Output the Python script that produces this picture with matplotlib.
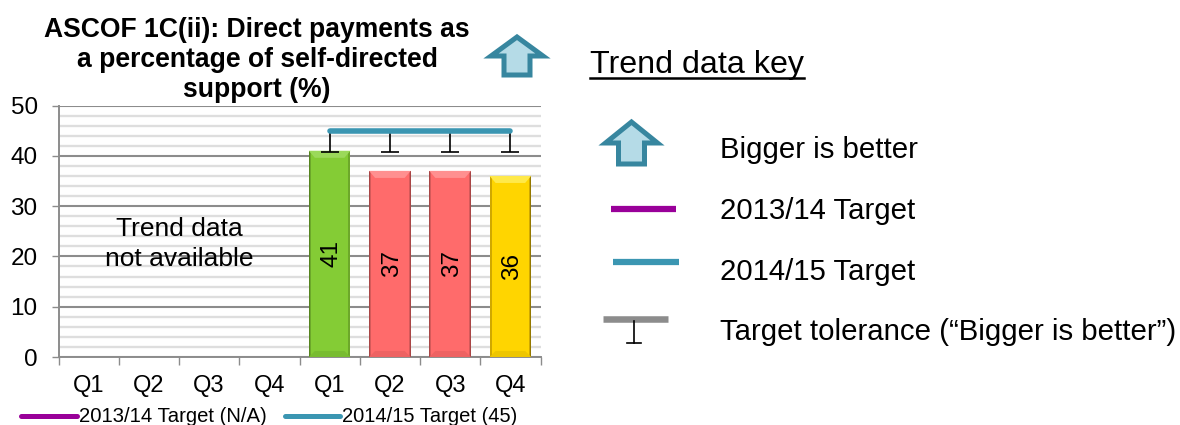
import matplotlib
matplotlib.use('Agg')
import matplotlib.pyplot as plt
from matplotlib.patches import Polygon
from matplotlib.lines import Line2D

plt.rcParams['font.family'] = ['Liberation Sans', 'DejaVu Sans']

W, H = 1180, 425
quarters = ['Q1', 'Q2', 'Q3', 'Q4', 'Q1', 'Q2', 'Q3', 'Q4']
values = [None, None, None, None, 41, 37, 37, 36]
bar_colors = [None, None, None, None, '#84CC35', '#FF6B6B', '#FF6B6B', '#FFD500']
bevel_colors = [None, None, None, None, '#9BD95A', '#FF9090', '#FF9090', '#FFE94A']
base_colors = [None, None, None, None, '#78BC30', '#EE6262', '#EE6262', '#EEC600']
side_colors = [None, None, None, None, '#6CA82A', '#D65A5A', '#D65A5A', '#D0A800']
edge_colors = [None, None, None, None, '#55841F', '#A84646', '#A84646', '#947800']
target_2014 = [None, None, None, None, 45, 45, 45, 45]
tolerance_low = [None, None, None, None, 40.7, 40.7, 40.7, 40.7]
TEAL = '#3B96B2'
PURPLE = '#990099'
ARROW_EDGE = '#37869F'
ARROW_FILL = '#B5DBE7'

fig = plt.figure(figsize=(W / 100, H / 100), dpi=100)
L, R, T, B = 58.5, 540.5, 105.5, 357
ax = fig.add_axes([L / W, 1 - B / H, (R - L) / W, (B - T) / H])
ax.set_xlim(-0.5, 7.5)
ax.set_ylim(0, 50)

ax.set_yticks(range(0, 51, 10))
ax.set_yticks(range(0, 51, 2), minor=True)
ax.grid(axis='y', which='minor', color='#DEDEDE', lw=1.7, zorder=0)
ax.grid(axis='y', which='major', color='#8C8C8C', lw=1.5, zorder=1)
ax.set_xticks([i - 0.5 for i in range(9)])
ax.set_xticks(range(8), minor=True)
ax.set_xticklabels([])
ax.set_xticklabels(quarters, minor=True, fontsize=17)
ax.tick_params(axis='x', which='major', length=6, width=1, color='#8C8C8C')
ax.tick_params(axis='x', which='minor', length=0, pad=13)
ax.tick_params(axis='y', which='major', length=5, width=1, color='#8C8C8C', labelsize=17.5, pad=10)
ax.tick_params(axis='y', which='minor', length=0)
for s in ('top', 'right'):
    ax.spines[s].set_visible(False)
for s in ('left', 'bottom'):
    ax.spines[s].set_color('#8C8C8C')
    ax.spines[s].set_linewidth(1.4)

width = 0.69
for i, v in enumerate(values):
    if v is None:
        continue
    ax.bar(i, v, width=width, color=edge_colors[i], zorder=3)
    ax.bar(i, v, width=width - 0.025, color=side_colors[i], zorder=3.5)
    ax.bar(i, v, width=width - 0.07, color=bar_colors[i], zorder=4)
    ax.add_patch(Polygon([(i - width / 2, v), (i + width / 2, v),
                          (i + width / 2 - 0.1, v - 1.4), (i - width / 2 + 0.1, v - 1.4)],
                         closed=True, color=bevel_colors[i], zorder=5, lw=0))
    ax.add_patch(Polygon([(i - width / 2, 0), (i + width / 2, 0),
                          (i + width / 2 - 0.1, 1.2), (i - width / 2 + 0.1, 1.2)],
                         closed=True, color=base_colors[i], zorder=5, lw=0))
    ax.text(i + 0.03, v / 2, str(v), rotation=90, ha='center', va='center', fontsize=17.5,
            color='black', zorder=6)

xs = [i for i, v in enumerate(target_2014) if v is not None]
ys = [target_2014[i] for i in xs]
lows = [tolerance_low[i] for i in xs]
ax.vlines(xs, lows, ys, color='black', lw=1.2, zorder=7)
ax.plot(xs, lows, ls='none', marker='_', ms=13, mew=1.2, color='black', zorder=7)
ax.plot(xs, ys, color=TEAL, lw=4, solid_capstyle='round', zorder=8)

ax.text(1.5, 25.4, 'Trend data', ha='center', va='center', fontsize=19, zorder=6)
ax.text(1.5, 19.4, 'not available', ha='center', va='center', fontsize=19, zorder=6)

# Overlay in pixel coordinates for the annotations around the chart
ov = fig.add_axes([0, 0, 1, 1])
ov.set_xlim(0, W)
ov.set_ylim(H, 0)
ov.axis('off')
ov.patch.set_alpha(0)

for y, line in zip((30, 60, 90), ('ASCOF 1C(ii): Direct payments as', 'a percentage of self-directed', 'support (%)')):
    ov.text(257, y, line, ha='center', va='center', fontsize=19.1, fontweight='bold')


def up_arrow(cx, apex, wing, bottom, hw, hs):
    pts = [(cx, apex), (cx + hw, wing), (cx + hs, wing), (cx + hs, bottom),
           (cx - hs, bottom), (cx - hs, wing), (cx - hw, wing)]
    ov.add_patch(Polygon(pts, closed=True, facecolor=ARROW_FILL, edgecolor=ARROW_EDGE,
                         lw=3.6, joinstyle='miter'))


up_arrow(517, 37, 56, 75, 26, 13)
up_arrow(631.5, 122, 143, 164, 26, 13)

ov.text(590, 65, 'Trend data key', ha='left', va='center', fontsize=23.2)
ov.add_line(Line2D([590, 804], [78, 78], color='black', lw=1.8))
for y, s in zip((150, 211, 272, 332),
                ('Bigger is better', '2013/14 Target', '2014/15 Target', 'Target tolerance (\u201cBigger is better\u201d)')):
    ov.text(720, y, s, ha='left', va='center', fontsize=21.2)
ov.add_line(Line2D([611, 676], [209, 209], color=PURPLE, lw=4.5, solid_capstyle='butt'))
ov.add_line(Line2D([613, 679], [262, 262], color=TEAL, lw=4.5, solid_capstyle='butt'))
ov.add_line(Line2D([603, 668], [319, 319], color='#8C8C8C', lw=4.7, solid_capstyle='butt'))
ov.add_line(Line2D([634, 634], [321, 343], color='black', lw=1.2))
ov.add_line(Line2D([627, 641], [343, 343], color='black', lw=1.2))

ov.add_line(Line2D([21, 77], [416, 416], color=PURPLE, lw=3.6, solid_capstyle='round'))
ov.text(79, 417, '2013/14 Target (N/A)', ha='left', va='center', fontsize=14.6)
ov.add_line(Line2D([285, 340], [416, 416], color=TEAL, lw=3.6, solid_capstyle='round'))
ov.text(342, 417, '2014/15 Target (45)', ha='left', va='center', fontsize=14.5)

fig.savefig('out.png', dpi=100)
